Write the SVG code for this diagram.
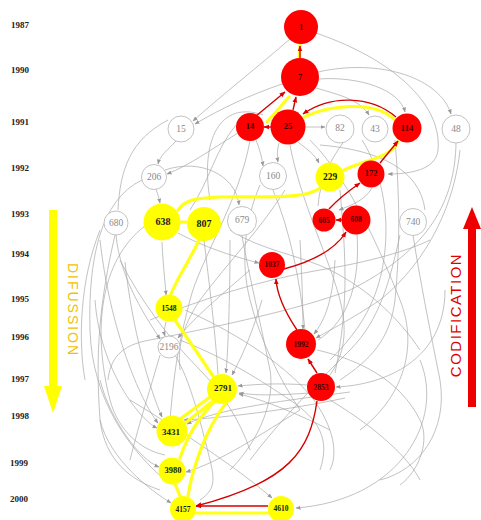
<svg xmlns="http://www.w3.org/2000/svg" width="481" height="520" viewBox="0 0 481 520">
<defs>
<marker id="ag" viewBox="0 0 10 10" refX="9" refY="5" markerWidth="5" markerHeight="5" markerUnits="userSpaceOnUse" orient="auto"><path d="M0,1 L10,5 L0,9 z" fill="#999"/></marker>
<marker id="ar" viewBox="0 0 10 10" refX="9" refY="5" markerWidth="6" markerHeight="6" markerUnits="userSpaceOnUse" orient="auto"><path d="M0,1 L10,5 L0,9 z" fill="#d00"/></marker>
<marker id="ay" viewBox="0 0 10 10" refX="9" refY="5" markerWidth="6" markerHeight="6" markerUnits="userSpaceOnUse" orient="auto"><path d="M0,1 L10,5 L0,9 z" fill="#ff0"/></marker>
</defs>
<style>
.g{fill:none;stroke:#a8a8a8;stroke-width:0.7}
.ga{fill:none;stroke:#a8a8a8;stroke-width:0.7;marker-end:url(#ag)}
.y{fill:none;stroke:#ffff1a;stroke-width:3.2;stroke-linecap:round}
.r{fill:none;stroke:#d40000;stroke-width:1.4;marker-end:url(#ar)}
.ng circle{fill:#fff;stroke:#b4b4b4;stroke-width:0.8}
.ny circle{fill:#ffff00}
.nr circle{fill:#f00}
text{font-family:"Liberation Serif","DejaVu Serif",serif;text-anchor:middle;dominant-baseline:central}
.ng text{fill:#8a8a8a;font-size:9.5px}
.ny text,.nr text{fill:#1a1a1a;font-weight:bold;font-size:8.5px}
.nr text{fill:#3a0000}
.yr{font-family:"Liberation Serif","DejaVu Serif",serif;font-size:9px;font-weight:bold;fill:#222;text-anchor:start}
.lab{font-family:"Liberation Sans",Arial,sans-serif;text-anchor:middle;dominant-baseline:central}
</style>
<g id="years">
<text class="yr" x="11" y="25">1987</text>
<text class="yr" x="11" y="70">1990</text>
<text class="yr" x="11" y="122">1991</text>
<text class="yr" x="11" y="168">1992</text>
<text class="yr" x="11" y="214">1993</text>
<text class="yr" x="11" y="254">1994</text>
<text class="yr" x="11" y="299">1995</text>
<text class="yr" x="11" y="337">1996</text>
<text class="yr" x="11" y="379">1997</text>
<text class="yr" x="11" y="416">1998</text>
<text class="yr" x="10" y="463">1999</text>
<text class="yr" x="10" y="499">2000</text>
</g>
<g id="difussion">
<rect x="49" y="210" width="8" height="180" fill="#ffff00"/>
<polygon points="44,386 62,386 53,413" fill="#ffff00"/>
<text class="lab" transform="translate(73,310) rotate(90)" font-size="14" letter-spacing="2" fill="#f2c200">DIFUSSION</text>
</g>
<g id="codification">
<rect x="468" y="226" width="8" height="181" fill="#ee0000"/>
<polygon points="463,229 481,229 472,207" fill="#ee0000"/>
<text class="lab" transform="translate(455,315) rotate(-90)" font-size="15" letter-spacing="1.5" fill="#e00000">CODIFICATION</text>
</g>
<g id="connectors">
<path class="ga" d="M290,39 C260,65 222,95 193,121"/>
<path class="ga" d="M316,33 C400,62 442,108 438,150 C436,170 410,174 388,174"/>
<path class="ga" d="M282,84 C250,95 222,108 195,124"/>
<path class="ga" d="M318,72 C380,58 440,78 451,114"/>
<path class="ga" d="M318,79 C360,76 400,90 405,112"/>
<path class="ga" d="M316,88 C340,95 360,100 369,115"/>
<path class="ga" d="M305,127 L325,127"/>
<path class="ga" d="M279,143 C277,150 277,156 278,162"/>
<path class="ga" d="M298,142 C308,150 315,155 319,163"/>
<path class="ga" d="M256,140 C260,150 262,158 263,166"/>
<path class="ga" d="M176,141 C168,150 160,155 158,164"/>
<path class="ga" d="M156,189 C158,195 159,198 160,203"/>
<path class="ga" d="M238,133 C210,150 190,165 167,174"/>
<path class="ga" d="M165,170 C200,158 236,175 239,205"/>
<path class="ga" d="M372,188 C365,200 352,205 339,210"/>
<path class="ga" d="M178,233 C210,250 240,258 259,263"/>
<path class="ga" d="M162,242 C163,265 165,280 166,295"/>
<path class="ga" d="M166,322 C164,330 164,333 165,336"/>
<path class="ga" d="M116,235 C120,280 148,320 160,339"/>
<path class="ga" d="M250,270 C215,300 190,322 178,338"/>
<path class="ga" d="M307,385 C280,383 260,384 238,386"/>
<path class="ga" d="M445,290 C445,360 385,385 336,387"/>
<path class="ga" d="M310,393 C280,395 260,396 239,393"/>
<path class="ga" d="M300,240 C302,280 303,310 303,329"/>
<path class="ga" d="M335,260 C333,300 325,320 314,334"/>
<path class="ga" d="M100,240 C110,330 140,400 158,423"/>
<path class="ga" d="M125,262 C132,330 150,390 162,417"/>
<path class="ga" d="M95,300 C100,370 140,420 157,428"/>
<path class="ga" d="M350,392 C290,400 220,408 187,424"/>
<path class="ga" d="M345,398 C290,410 220,418 184,420"/>
<path class="ga" d="M300,410 C260,435 220,462 186,472"/>
<path class="ga" d="M100,380 C110,420 140,460 159,467"/>
<path class="ga" d="M100,420 C110,460 150,490 171,503"/>
<path class="ga" d="M420,360 C445,420 400,500 296,508"/>
<path class="ga" d="M130,400 C180,430 240,470 272,498"/>
<path class="ga" d="M230,240 C230,300 228,350 226,373"/>
<path class="ga" d="M262,300 C250,340 240,360 232,375"/>
<path class="ga" d="M330,430 C300,415 265,400 239,394"/>
<path class="ga" d="M460,150 C455,200 430,260 380,300 C350,320 330,330 316,338"/>
<path class="g" d="M250,140 C240,200 200,260 190,300 C180,340 175,360 170,420"/>
<path class="g" d="M290,145 C300,200 330,260 340,300 C350,340 340,360 330,375"/>
<path class="g" d="M310,140 C350,180 380,250 400,300 C420,350 400,400 360,430"/>
<path class="g" d="M395,140 C400,200 400,250 395,300 C390,340 370,360 340,380"/>
<path class="g" d="M413,235 C420,280 430,330 440,380 C448,430 420,470 380,480"/>
<path class="g" d="M115,235 C100,300 95,350 100,420 C105,460 130,480 160,490"/>
<path class="g" d="M145,226 C100,260 92,330 110,400 C118,430 140,450 165,455"/>
<path class="g" d="M242,236 C250,280 260,320 270,370 C275,400 260,440 230,470"/>
<path class="g" d="M204,240 C210,290 215,330 218,374"/>
<path class="g" d="M273,190 C290,230 300,280 305,330"/>
<path class="g" d="M340,190 C345,250 350,300 335,373"/>
<path class="g" d="M357,234 C360,280 350,320 318,340"/>
<path class="g" d="M142,180 C100,200 88,260 90,330 C92,400 130,450 165,480"/>
<path class="g" d="M456,143 C455,200 430,250 350,290 C300,310 200,330 150,340 C120,345 110,360 108,380"/>
<path class="g" d="M168,120 C130,140 120,170 118,210"/>
<path class="g" d="M263,115 C220,100 200,140 210,200"/>
<path class="g" d="M236,125 C215,150 210,180 190,210"/>
<path class="g" d="M285,190 C260,230 230,260 200,300 C180,330 178,350 180,370"/>
<path class="g" d="M260,185 C245,220 240,260 250,300 C260,340 280,380 300,410"/>
<path class="g" d="M320,145 C380,150 420,170 425,210"/>
<path class="g" d="M362,140 C375,160 390,200 385,250 C380,300 360,330 330,360"/>
<path class="g" d="M345,140 C330,160 320,180 318,206"/>
<path class="g" d="M230,230 C260,250 300,255 330,270 C370,290 400,320 420,350"/>
<path class="g" d="M150,320 C200,300 260,280 320,270 C370,262 410,250 430,240"/>
<path class="g" d="M185,310 C230,330 280,360 310,395 C330,420 340,450 330,470"/>
<path class="g" d="M180,340 C230,360 260,380 290,400 C320,420 330,440 320,470"/>
<path class="g" d="M120,260 C140,300 170,340 200,370 C220,390 240,420 250,450"/>
<path class="g" d="M400,235 C390,280 380,320 350,350 C320,380 280,420 250,460"/>
<path class="g" d="M330,400 C380,430 410,460 420,480"/>
<path class="g" d="M317,350 C360,360 400,380 420,420 C430,440 420,470 400,485"/>
<path class="g" d="M160,355 C150,390 140,420 130,460"/>
<path class="g" d="M100,230 C80,280 78,340 85,380"/>
<path class="g" d="M175,355 C190,380 200,420 210,460 C215,480 215,490 200,500"/>
</g>
<g id="highlight-connectors">
<path class="y" d="M299,58 L300,45"/>
<path class="y" d="M267,122 L289,97"/>
<path class="y" d="M304,117 C330,105 375,100 395,120"/>
<path class="y" d="M398,142 C390,158 365,160 344,170"/>
<path class="y" d="M320,188 C305,200 260,196 220,197 C195,198 185,200 178,210"/>
<path class="y" d="M181,222 L186,222"/>
<path class="y" d="M199,240 C190,260 176,280 171,294"/>
<path class="y" d="M175,320 L213,376"/>
<path class="y" d="M210,397 L180,419"/>
<path class="y" d="M214,400 L184,424"/>
<path class="y" d="M215,401 C196,420 186,440 180,458"/>
<path class="y" d="M226,403 C205,430 192,470 188,496"/>
<path class="y" d="M175,484 L180,496"/>
<path class="y" d="M196,513 L268,513"/>
<path class="r" d="M300,58 L300,46"/>
<path class="r" d="M256,116 L285,92"/>
<path class="r" d="M293,110 L296,97"/>
<path class="r" d="M271,127 L264,127"/>
<path class="r" d="M396,117 C370,95 330,95 303,114"/>
<path class="r" d="M380,163 L398,141"/>
<path class="r" d="M329,209 C340,197 350,190 360,183"/>
<path class="r" d="M342,220 L336,220"/>
<path class="r" d="M284,269 C310,262 335,250 346,232"/>
<path class="r" d="M297,330 C285,312 277,296 276,279"/>
<path class="r" d="M317,373 L308,359"/>
<path class="r" d="M317,401 C310,450 290,482 196,506"/>
<path class="r" d="M268,506 L196,506"/>
</g>
<g id="n1" class="nr"><circle cx="301" cy="27" r="17"/><text x="301" y="27">1</text></g>
<g id="n7" class="nr"><circle cx="300" cy="77" r="19"/><text x="300" y="77">7</text></g>
<g id="n14" class="nr"><circle cx="250" cy="127" r="14"/><text x="250" y="126">14</text></g>
<g id="n25" class="nr"><circle cx="288" cy="127" r="17.5"/><text x="288" y="126">25</text></g>
<g id="n15" class="ng"><circle cx="181" cy="129" r="13"/><text x="181" y="129">15</text></g>
<g id="n82" class="ng"><circle cx="340" cy="129" r="14"/><text x="340" y="128">82</text></g>
<g id="n43" class="ng"><circle cx="375" cy="129" r="13"/><text x="375" y="129">43</text></g>
<g id="n114" class="nr"><circle cx="407" cy="128" r="14.5"/><text x="407" y="128">114</text></g>
<g id="n48" class="ng"><circle cx="456" cy="129" r="14"/><text x="456" y="129">48</text></g>
<g id="n206" class="ng"><circle cx="154" cy="177" r="12.5"/><text x="154" y="177">206</text></g>
<g id="n160" class="ng"><circle cx="273" cy="176" r="13.5"/><text x="273" y="176">160</text></g>
<g id="n229" class="ny"><circle cx="330" cy="177" r="14.5"/><text x="330" y="177" style="font-size:9.5px">229</text></g>
<g id="n172" class="nr"><circle cx="371" cy="174" r="13.5"/><text x="371" y="173">172</text></g>
<g id="n680" class="ng"><circle cx="116" cy="223" r="12"/><text x="116" y="223">680</text></g>
<g id="n638" class="ny"><circle cx="162" cy="222" r="18.5"/><text x="163" y="221" style="font-size:10px">638</text></g>
<g id="n807" class="ny"><circle cx="204" cy="224" r="17"/><text x="204" y="223" style="font-size:10px">807</text></g>
<g id="n679" class="ng"><circle cx="242" cy="221" r="14.5"/><text x="242" y="220">679</text></g>
<g id="n605" class="nr"><circle cx="324" cy="220" r="11.5"/><text x="324" y="220" style="font-size:7.5px">605</text></g>
<g id="n608" class="nr"><circle cx="356" cy="220" r="14.5"/><text x="356" y="219" style="font-size:7.5px">608</text></g>
<g id="n740" class="ng"><circle cx="413" cy="222" r="13.5"/><text x="413" y="222">740</text></g>
<g id="n1037" class="nr"><circle cx="272" cy="265" r="13"/><text x="272" y="264" style="font-size:7.5px">1037</text></g>
<g id="n1548" class="ny"><circle cx="169" cy="308" r="13.5"/><text x="169" y="308" style="font-size:7.5px">1548</text></g>
<g id="n2196" class="ng"><circle cx="169" cy="347" r="11"/><text x="169" y="347">2196</text></g>
<g id="n1992" class="nr"><circle cx="301" cy="344" r="15"/><text x="301" y="344" style="font-size:7.5px">1992</text></g>
<g id="n2791" class="ny"><circle cx="222" cy="389" r="15"/><text x="223" y="388" style="font-size:9px">2791</text></g>
<g id="n2853" class="nr"><circle cx="321" cy="387" r="14"/><text x="321" y="387" style="font-size:7.5px">2853</text></g>
<g id="n3431" class="ny"><circle cx="172" cy="431" r="15.5"/><text x="171" y="432" style="font-size:9px">3431</text></g>
<g id="n3980" class="ny"><circle cx="172" cy="471" r="13.5"/><text x="173" y="470" style="font-size:8.5px">3980</text></g>
<g id="n4157" class="ny"><circle cx="183" cy="509" r="13"/><text x="183" y="509" style="font-size:7.5px">4157</text></g>
<g id="n4610" class="ny"><circle cx="281" cy="509" r="13"/><text x="281" y="508" style="font-size:7.5px">4610</text></g>
</svg>
